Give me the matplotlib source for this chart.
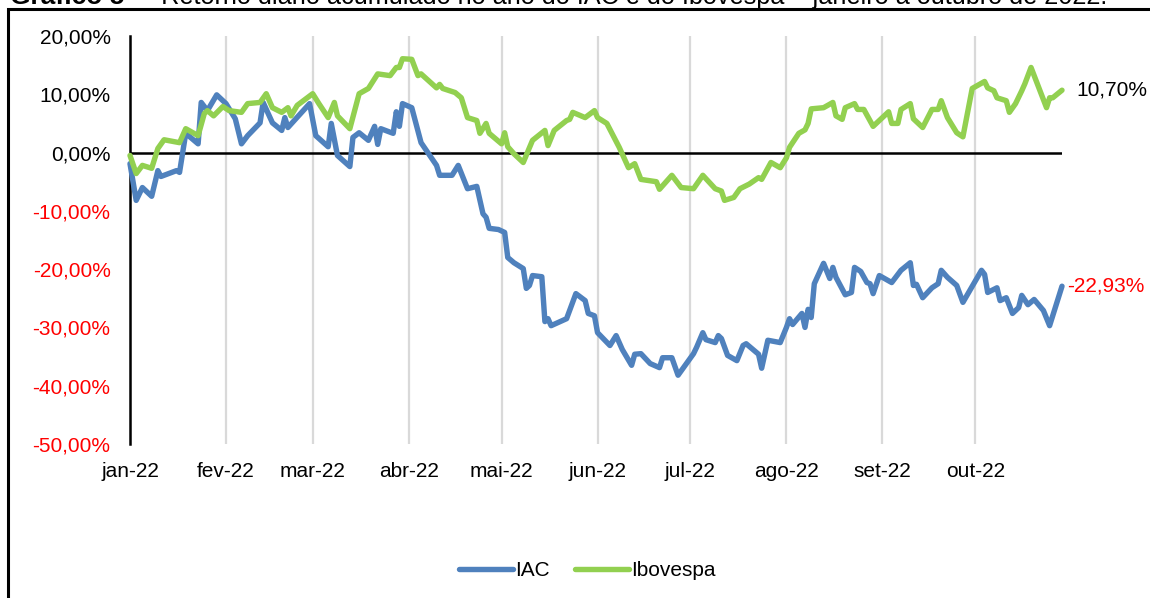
import matplotlib

matplotlib.use("Agg")
import matplotlib.pyplot as plt
import matplotlib.ticker as ticker
import matplotlib.patches as patches
import pandas as pd

plt.rcParams["font.family"] = ["Liberation Sans", "DejaVu Sans"]

# IAC - retorno acumulado (%)
iac_dates = [
    "2022-01-03", "2022-01-05", "2022-01-07", "2022-01-10", "2022-01-12", "2022-01-13",
    "2022-01-18", "2022-01-19", "2022-01-21", "2022-01-25", "2022-01-26", "2022-01-28",
    "2022-01-31", "2022-02-03", "2022-02-06", "2022-02-08", "2022-02-10", "2022-02-14",
    "2022-02-15", "2022-02-18", "2022-02-21", "2022-02-22", "2022-02-23", "2022-03-02",
    "2022-03-04", "2022-03-08", "2022-03-09", "2022-03-11", "2022-03-15", "2022-03-16",
    "2022-03-18", "2022-03-21", "2022-03-23", "2022-03-24", "2022-03-25", "2022-03-29",
    "2022-03-30", "2022-03-31", "2022-04-01", "2022-04-04", "2022-04-07", "2022-04-12",
    "2022-04-13", "2022-04-17", "2022-04-19", "2022-04-22", "2022-04-25", "2022-04-27",
    "2022-04-28", "2022-04-29", "2022-05-02", "2022-05-04", "2022-05-05", "2022-05-07",
    "2022-05-10", "2022-05-11", "2022-05-12", "2022-05-13", "2022-05-16", "2022-05-17",
    "2022-05-18", "2022-05-19", "2022-05-24", "2022-05-27", "2022-05-30", "2022-05-31",
    "2022-06-02", "2022-06-03", "2022-06-07", "2022-06-09", "2022-06-11", "2022-06-14",
    "2022-06-15", "2022-06-17", "2022-06-20", "2022-06-23", "2022-06-24", "2022-06-27",
    "2022-06-29", "2022-07-04", "2022-07-05", "2022-07-07", "2022-07-08", "2022-07-11",
    "2022-07-12", "2022-07-13", "2022-07-15", "2022-07-18", "2022-07-20", "2022-07-21",
    "2022-07-25", "2022-07-26", "2022-07-28", "2022-08-01", "2022-08-03", "2022-08-04",
    "2022-08-05", "2022-08-08", "2022-08-09", "2022-08-10", "2022-08-11", "2022-08-12",
    "2022-08-15", "2022-08-17", "2022-08-18", "2022-08-19", "2022-08-22", "2022-08-24",
    "2022-08-25", "2022-08-27", "2022-08-29", "2022-08-30", "2022-08-31", "2022-09-02",
    "2022-09-06", "2022-09-09", "2022-09-12", "2022-09-13", "2022-09-14", "2022-09-16",
    "2022-09-19", "2022-09-21", "2022-09-22", "2022-09-24", "2022-09-27", "2022-09-29",
    "2022-10-05", "2022-10-06", "2022-10-07", "2022-10-10", "2022-10-11", "2022-10-13",
    "2022-10-15", "2022-10-17", "2022-10-18", "2022-10-20", "2022-10-22", "2022-10-25",
    "2022-10-27", "2022-10-31",
]
iac_vals = [
    -1.9, -8.2, -6.0, -7.5, -3.1, -4.1,
    -3.1, -3.4, 3.3, 1.5, 8.6, 7.2,
    9.9, 8.4, 5.8, 1.5, 2.9, 5.1,
    8.6, 5.1, 3.8, 6.0, 4.3, 8.4,
    2.9, 1.0, 5.0, -0.5, -2.4, 2.6,
    3.4, 2.1, 4.5, 1.4, 4.1, 3.3,
    7.0, 4.5, 8.4, 7.7, 1.7, -2.2,
    -3.9, -3.9, -2.2, -6.2, -5.8, -10.5,
    -11.1, -13.0, -13.2, -13.7, -18.0, -18.9,
    -19.9, -23.3, -22.8, -21.1, -21.3, -29.0,
    -28.5, -29.7, -28.5, -24.2, -25.4, -27.6,
    -28.0, -30.9, -33.1, -31.4, -33.8, -36.5,
    -34.6, -34.5, -36.2, -36.9, -35.2, -35.2,
    -38.2, -34.5, -33.4, -30.9, -32.1, -32.6,
    -31.4, -31.9, -34.8, -35.7, -33.1, -32.8,
    -34.6, -37.0, -32.2, -32.6, -30.0, -28.5,
    -29.5, -27.6, -30.0, -26.9, -28.3, -22.5,
    -19.0, -21.6, -19.7, -21.4, -24.4, -24.0,
    -19.7, -20.4, -22.3, -22.5, -24.2, -21.1,
    -22.3, -20.2, -18.9, -22.8, -22.6, -24.9,
    -23.2, -22.5, -20.2, -21.4, -22.8, -25.7,
    -20.2, -20.9, -24.0, -23.2, -25.4, -24.9,
    -27.6, -26.6, -24.5, -26.1, -25.2, -27.1,
    -29.7, -22.93,
]

# Ibovespa - retorno acumulado (%)
ibov_dates = [
    "2022-01-03", "2022-01-05", "2022-01-07", "2022-01-10", "2022-01-12", "2022-01-14",
    "2022-01-19", "2022-01-21", "2022-01-25", "2022-01-27", "2022-01-28", "2022-01-30",
    "2022-02-02", "2022-02-04", "2022-02-08", "2022-02-10", "2022-02-14", "2022-02-16",
    "2022-02-18", "2022-02-21", "2022-02-23", "2022-02-24", "2022-02-26", "2022-03-03",
    "2022-03-05", "2022-03-08", "2022-03-10", "2022-03-11", "2022-03-15", "2022-03-18",
    "2022-03-21", "2022-03-24", "2022-03-28", "2022-03-30", "2022-03-31", "2022-04-01",
    "2022-04-04", "2022-04-06", "2022-04-07", "2022-04-12", "2022-04-13", "2022-04-14",
    "2022-04-18", "2022-04-20", "2022-04-22", "2022-04-25", "2022-04-26", "2022-04-28",
    "2022-04-29", "2022-05-03", "2022-05-04", "2022-05-05", "2022-05-07", "2022-05-10",
    "2022-05-13", "2022-05-17", "2022-05-18", "2022-05-20", "2022-05-24", "2022-05-25",
    "2022-05-26", "2022-05-30", "2022-06-02", "2022-06-03", "2022-06-06", "2022-06-10",
    "2022-06-13", "2022-06-15", "2022-06-17", "2022-06-22", "2022-06-23", "2022-06-27",
    "2022-06-30", "2022-07-04", "2022-07-07", "2022-07-11", "2022-07-13", "2022-07-14",
    "2022-07-17", "2022-07-19", "2022-07-22", "2022-07-25", "2022-07-26", "2022-07-29",
    "2022-08-01", "2022-08-03", "2022-08-04", "2022-08-07", "2022-08-09", "2022-08-10",
    "2022-08-11", "2022-08-15", "2022-08-18", "2022-08-19", "2022-08-21", "2022-08-22",
    "2022-08-25", "2022-08-26", "2022-08-28", "2022-08-31", "2022-09-03", "2022-09-05",
    "2022-09-06", "2022-09-08", "2022-09-09", "2022-09-12", "2022-09-13", "2022-09-16",
    "2022-09-19", "2022-09-21", "2022-09-22", "2022-09-24", "2022-09-27", "2022-09-29",
    "2022-10-02", "2022-10-06", "2022-10-07", "2022-10-09", "2022-10-10", "2022-10-13",
    "2022-10-14", "2022-10-16", "2022-10-18", "2022-10-19", "2022-10-21", "2022-10-26",
    "2022-10-27", "2022-10-28", "2022-10-31",
]
ibov_vals = [
    -0.5, -3.6, -2.2, -2.7, 0.7, 2.2,
    1.7, 4.1, 2.9, 6.7, 7.2, 6.3,
    7.9, 7.2, 6.9, 8.4, 8.6, 10.1,
    7.7, 6.9, 7.7, 6.3, 8.1, 10.1,
    8.4, 6.0, 8.6, 6.3, 4.1, 10.1,
    11.0, 13.5, 13.2, 14.6, 14.6, 16.1,
    16.0, 13.2, 13.5, 11.1, 11.7, 11.0,
    10.3, 9.4, 6.0, 5.5, 3.3, 5.0,
    3.3, 1.5, 3.4, 1.0, -0.2, -1.7,
    2.1, 3.8, 1.2, 3.8, 5.5, 5.7,
    6.9, 6.0, 7.2, 6.0, 5.0, 0.9,
    -2.6, -1.9, -4.6, -5.0, -6.3, -3.9,
    -6.0, -6.2, -3.9, -6.2, -6.6, -8.2,
    -7.7, -6.2, -5.4, -4.3, -4.6, -1.7,
    -2.6, -0.9, 0.9, 3.3, 3.9, 5.0,
    7.5, 7.7, 8.6, 6.3, 5.7, 7.7,
    8.4, 7.4, 7.4, 4.5, 6.0, 7.0,
    5.0, 5.0, 7.4, 8.4, 5.8, 4.3,
    7.4, 7.4, 8.9, 6.0, 3.4, 2.7,
    11.0, 12.2, 11.1, 10.6, 9.4, 8.9,
    6.9, 8.4, 10.6, 11.8, 14.6, 7.7,
    9.4, 9.4, 10.7,
]

month_labels = ["jan-22", "fev-22", "mar-22", "abr-22", "mai-22",
                "jun-22", "jul-22", "ago-22", "set-22", "out-22"]
y_ticks = [20, 10, 0, -10, -20, -30, -40, -50]

blue = "#4F81BD"
green = "#92D050"
red = "#FF0000"

fig = plt.figure(figsize=(11.5, 5.98), dpi=100)
ax = fig.add_axes([130 / 1150, 1 - 444 / 598, (1062 - 130) / 1150, (444 - 36) / 598])

iac_x = pd.to_datetime(iac_dates)
ibov_x = pd.to_datetime(ibov_dates)
ax.plot(iac_x, iac_vals, color=blue, linewidth=3.9, solid_joinstyle="round",
        solid_capstyle="round", clip_on=False, label="IAC", zorder=3)
ax.plot(ibov_x, ibov_vals, color=green, linewidth=3.9, solid_joinstyle="round",
        solid_capstyle="round", clip_on=False, label="Ibovespa", zorder=3)

ax.set_xlim(pd.Timestamp("2022-01-03"), pd.Timestamp("2022-10-31"))
ax.set_ylim(-50, 20)

# o eixo começa em 03/01, então as marcas mensais caem no dia 3
tick_pos = pd.date_range("2022-01-01", periods=len(month_labels), freq="MS") + pd.Timedelta(days=2)
ax.set_xticks(tick_pos)
ax.set_xticklabels(month_labels)
ax.tick_params(axis="x", length=0, pad=13, labelsize=15)

ax.set_yticks(y_ticks)
ax.yaxis.set_major_formatter(ticker.FuncFormatter(lambda v, _: f"{v:.2f}".replace(".", ",") + "%"))
ax.tick_params(axis="y", length=0, pad=14, labelsize=15)
for lbl, v in zip(ax.get_yticklabels(), ax.get_yticks()):
    lbl.set_color(red if v < 0 else "black")

for name, spine in ax.spines.items():
    spine.set_visible(name == "left")
ax.spines["left"].set_linewidth(1.8)
ax.grid(axis="x", color="#D9D9D9", linewidth=1.6)
ax.axhline(0, color="black", linewidth=1.8, zorder=2)

ax.annotate("10,70%", xy=(ibov_x[-1], ibov_vals[-1]), xytext=(10, 0), textcoords="offset points",
            va="center", ha="left", fontsize=15, color="black", annotation_clip=False)
ax.annotate("-22,93%", xy=(iac_x[-1], iac_vals[-1]), xytext=(4, 0), textcoords="offset points",
            va="center", ha="left", fontsize=15, color=red, annotation_clip=False)

fig.legend(loc="center", bbox_to_anchor=(587 / 1150, 1 - 571 / 598), ncol=2, frameon=False,
           fontsize=15, handlelength=2.6, handletextpad=0.1, columnspacing=1.2)

# moldura do gráfico e título cortado no topo
fig.patches.append(patches.Rectangle((8 / 1150, -0.05), 1.2, 1 - 9 / 598 + 0.05, transform=fig.transFigure,
                                     fill=False, edgecolor="black", linewidth=2.2))
fig.text(10 / 1150, 1 - 4 / 598, "Gráfico 5", fontsize=19, fontweight="bold", va="baseline")
fig.text(140 / 1150, 1 - 4 / 598,
         "– Retorno diário acumulado no ano do IAC e do Ibovespa – janeiro a outubro de 2022.",
         fontsize=18.2, va="baseline")

fig.savefig("out.png", dpi=100, facecolor="white")
